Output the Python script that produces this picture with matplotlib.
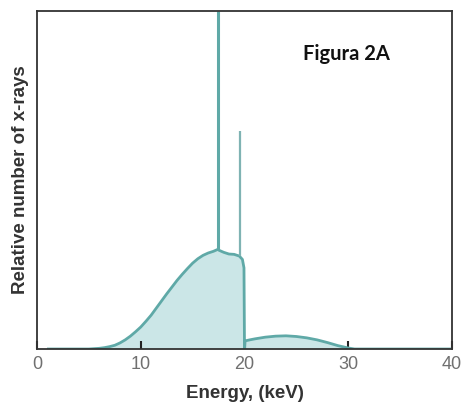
import matplotlib
matplotlib.use("Agg")
from matplotlib import pyplot as plt

# continuous (bremsstrahlung) spectrum, relative units
energy = [1.1, 5, 6, 6.5, 7, 7.5, 8, 8.5, 9, 9.5, 10, 10.5, 11, 11.5, 12, 12.5, 13, 13.5, 14, 14.5,
          15, 15.5, 16, 16.5, 17, 17.45,
          17.55, 18, 18.5, 19, 19.5, 19.8, 19.95, 20.0,
          20.05, 20.5, 21, 22, 23, 24, 25, 26, 27, 28, 29, 30, 30.6, 40]
counts = [0.0, 0.0, 0.002, 0.004, 0.007, 0.011, 0.018, 0.027, 0.038, 0.051, 0.065, 0.082, 0.100, 0.121,
          0.142, 0.163, 0.183, 0.203, 0.221, 0.238,
          0.254, 0.267, 0.277, 0.284, 0.289, 0.295,
          0.292, 0.286, 0.281, 0.280, 0.275, 0.265, 0.240, 0.0,
          0.024, 0.027, 0.030, 0.035, 0.038, 0.039, 0.037, 0.033, 0.027, 0.019, 0.010, 0.003, 0.0, 0.0]

# characteristic lines
line_energy = [17.49, 19.6]
line_base = [0.295, 0.275]
line_top = [1.0, 0.646]

xticks = [0, 10, 20, 30, 40]

line_color = "#5fa9a7"
fill_color = "#cbe6e7"

fig = plt.figure(figsize=(4.61, 4.03), dpi=100)
ax = fig.add_axes([37 / 461, 54 / 403, 415 / 461, 338 / 403])

ax.fill_between(energy, counts, 0, color=fill_color, lw=0)
ax.plot(energy, counts, color=line_color, lw=2, solid_joinstyle="round")
ax.vlines(line_energy[0], line_base[0], line_top[0], color=line_color, lw=2.2)
ax.vlines(line_energy[1], line_base[1], line_top[1], color="#7fb3b3", lw=1.6)

ax.set_xlim(0, 40)
ax.set_ylim(0, 1.0)
ax.set_xticks(xticks)
ax.set_yticks([])
ax.tick_params(axis="x", direction="in", length=6, width=1.5, colors="#222222",
               labelcolor="#707070", labelsize=13, pad=5)
for s in ax.spines.values():
    s.set_color("#333333")
    s.set_linewidth(1.3)
for lbl in ax.get_xticklabels():
    lbl.set_family("Liberation Sans")

ax.set_xlabel("Energy, (keV)", fontsize=13.5, fontweight="bold", color="#333333",
              family="Liberation Sans", labelpad=9)
ax.set_ylabel("Relative number of x-rays", fontsize=13.5, fontweight="bold", color="#333333",
              family="Liberation Sans", labelpad=6)

fig.text(346 / 461, 1 - 54 / 403, "Figura 2A", fontsize=14.5, fontweight="bold",
         family="Lato", ha="center", va="center", color="#111111")

fig.savefig("out.png", dpi=100)
